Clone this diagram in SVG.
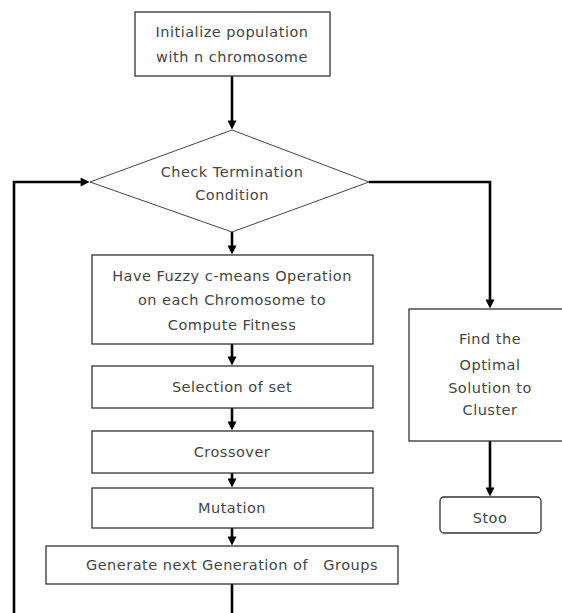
<svg xmlns="http://www.w3.org/2000/svg" width="562" height="613" viewBox="0 0 562 613">
<defs>
<marker id="ah" viewBox="0 0 10 10" markerUnits="userSpaceOnUse" markerWidth="10" markerHeight="9" refX="6" refY="5" orient="auto">
<path d="M0,0 L10,5 L0,10 z" fill="#000"/>
</marker>
<style>
.box{fill:#fff;stroke:#333;stroke-width:1.3}
.dia{fill:#fff;stroke:#444;stroke-width:1}
.t{font-family:"DejaVu Sans","Noto Sans",sans-serif;font-size:14.5px;letter-spacing:0.5px;fill:#444;text-anchor:middle}
.c{fill:none;stroke:#000;stroke-width:2.6;marker-end:url(#ah)}
</style>
</defs>
<rect width="562" height="613" fill="#fff"/>
<g id="connectors">
<path class="c" d="M232,76 V126"/>
<path class="c" d="M232,232 V251"/>
<path class="c" d="M232,344 V362"/>
<path class="c" d="M232,408 V427"/>
<path class="c" d="M232,473 V484"/>
<path class="c" d="M232,528 V542"/>
<path class="c" d="M232,584 V625 H14 V182 H86"/>
<path class="c" d="M369,182 H490 V305"/>
<path class="c" d="M490,441 V493"/>
</g>
<g id="init">
<rect class="box" x="135" y="12" width="195" height="64"/>
<text class="t" x="232" y="37">Initialize population</text>
<text class="t" x="232" y="62">with n chromosome</text>
</g>
<g id="check">
<polygon class="dia" points="232,130 369,182 232,232 90,182"/>
<text class="t" x="232" y="177">Check Termination</text>
<text class="t" x="232" y="200">Condition</text>
</g>
<g id="fuzzy">
<rect class="box" x="92" y="255" width="281" height="89"/>
<text class="t" x="232" y="281">Have Fuzzy c-means Operation</text>
<text class="t" x="232" y="305">on each Chromosome to</text>
<text class="t" x="232" y="330">Compute Fitness</text>
</g>
<g id="selection">
<rect class="box" x="92" y="366" width="281" height="42"/>
<text class="t" x="232" y="392">Selection of set</text>
</g>
<g id="crossover">
<rect class="box" x="92" y="431" width="281" height="42"/>
<text class="t" x="232" y="457">Crossover</text>
</g>
<g id="mutation">
<rect class="box" x="92" y="488" width="281" height="40"/>
<text class="t" x="232" y="513">Mutation</text>
</g>
<g id="generate">
<rect class="box" x="46" y="546" width="352" height="38"/>
<text class="t" x="232" y="570" xml:space="preserve">Generate next Generation of   Groups</text>
</g>
<g id="find">
<rect class="box" x="409" y="309" width="170" height="132"/>
<text class="t" x="490" y="344">Find the</text>
<text class="t" x="490" y="370">Optimal</text>
<text class="t" x="490" y="393">Solution to</text>
<text class="t" x="490" y="415">Cluster</text>
</g>
<g id="stop">
<rect class="box" x="440" y="497" width="101" height="36" rx="4"/>
<text class="t" x="490" y="523">Stoo</text>
</g>
</svg>
